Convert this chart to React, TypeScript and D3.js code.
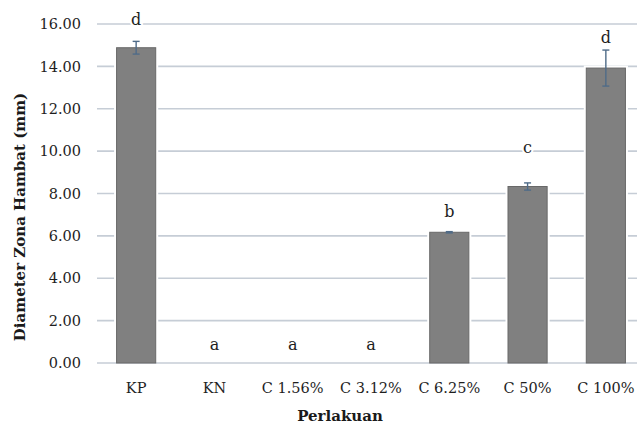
import React from "react";
import * as d3 from "d3";

const categories = ["KP", "KN", "C 1.56%", "C 3.12%", "C 6.25%", "C 50%", "C 100%"];
const means = [14.88, 0, 0, 0, 6.17, 8.33, 13.92];
const errors = [0.3, 0, 0, 0, 0.03, 0.17, 0.85];
const letters = ["d", "a", "a", "a", "b", "c", "d"];
const letterLevels = [15.95, 0.61, 0.61, 0.61, 6.89, 9.91, 15.1];
const yTicks = [0, 2, 4, 6, 8, 10, 12, 14, 16];

const W = 637;
const H = 434;
const FONT = "'DejaVu Serif', 'Liberation Serif', serif";

export default function App() {
  const x = d3
    .scaleBand<string>()
    .domain(categories)
    .range([97, 645])
    .paddingInner(0.5)
    .paddingOuter(0.25);
  const y = d3.scaleLinear().domain([0, 16]).range([363, 24]);
  const bw = x.bandwidth();

  return (
    <svg
      width={W}
      height={H}
      style={{ position: "fixed", left: 0, top: 0, background: "#fff" }}
      fontFamily={FONT}
    >
      <rect x={0} y={0} width={W} height={H} fill="#fff" />
      {yTicks.map((t) => (
        <line
          key={"g" + t}
          x1={97}
          x2={W}
          y1={y(t)}
          y2={y(t)}
          stroke="#c6cdd6"
          strokeWidth={1.6}
        />
      ))}
      {yTicks.map((t) => (
        <text
          key={"t" + t}
          x={81}
          y={y(t)}
          dy="0.36em"
          textAnchor="end"
          fontSize={14.5}
          fill="#1e1e1e"
        >
          {d3.format(".2f")(t)}
        </text>
      ))}
      {categories.map((c, i) => {
        const v = means[i];
        if (v <= 0) return null;
        const x0 = x(c)!;
        return (
          <g key={"b" + c}>
            <rect
              x={x0 - 2.5}
              y={y(v) - 2.5}
              width={bw + 5}
              height={y(0) - y(v) + 1.5}
              fill="#fff"
            />
            <rect
              x={x0}
              y={y(v)}
              width={bw}
              height={y(0) - y(v)}
              fill="#808080"
              stroke="#686868"
              strokeWidth={1}
            />
          </g>
        );
      })}
      {categories.map((c, i) => {
        const e = errors[i];
        if (e <= 0) return null;
        const cx = x(c)! + bw / 2;
        const top = y(means[i] + e);
        const bot = y(means[i] - e);
        return (
          <g key={"e" + c} stroke="#4f6b88" strokeWidth={1.4}>
            <line x1={cx} x2={cx} y1={top} y2={bot} />
            <line x1={cx - 3.5} x2={cx + 3.5} y1={top} y2={top} />
            <line x1={cx - 3.5} x2={cx + 3.5} y1={bot} y2={bot} />
          </g>
        );
      })}
      {categories.map((c, i) => (
        <text
          key={"l" + c}
          x={x(c)! + bw / 2}
          y={y(letterLevels[i])}
          textAnchor="middle"
          fontSize={16}
          fill="#1e1e1e"
          stroke="#fff"
          strokeWidth={4}
          paintOrder="stroke"
        >
          {letters[i]}
        </text>
      ))}
      {categories.map((c) => (
        <text
          key={"x" + c}
          x={x(c)! + bw / 2}
          y={393}
          textAnchor="middle"
          fontSize={14.5}
          fill="#1e1e1e"
        >
          {c}
        </text>
      ))}
      <text
        x={340}
        y={421}
        textAnchor="middle"
        fontSize={15}
        fontWeight="bold"
        fill="#1a1a1a"
      >
        Perlakuan
      </text>
      <text
        transform={`translate(25,217) rotate(-90)`}
        textAnchor="middle"
        fontSize={15}
        fontWeight="bold"
        fill="#1a1a1a"
      >
        Diameter Zona Hambat (mm)
      </text>
    </svg>
  );
}
